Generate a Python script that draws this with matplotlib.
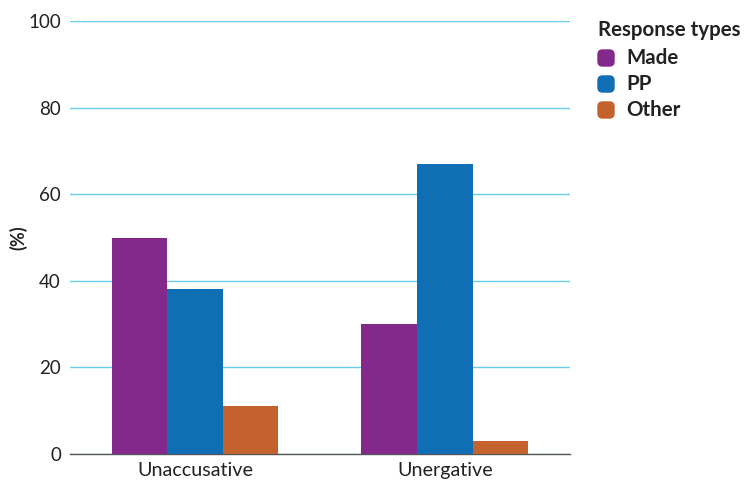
import matplotlib
matplotlib.use("Agg")
import matplotlib.pyplot as plt
from matplotlib.patches import FancyBboxPatch
import numpy as np

plt.rcParams['font.family'] = ['Lato', 'DejaVu Sans']

# --- données ------------------------------------------------------------
categories = ['Unaccusative', 'Unergative']
series = ['Made', 'PP', 'Other']
made = [50, 30]
pp = [38, 67]
other = [11, 3]
values = [made, pp, other]
colors = ['#84298C', '#0F6EB4', '#C4622D']
yticks = [0, 20, 40, 60, 80, 100]

# --- figure -------------------------------------------------------------
fig = plt.figure(figsize=(7.45, 4.83), dpi=100)
ax = fig.add_axes([0.094, 0.060, 0.671, 0.8965])

x = np.arange(len(categories))
width = 0.2227
for i, (vals, col) in enumerate(zip(values, colors)):
    ax.bar(x + (i - 1) * width, vals, width, color=col, zorder=3)

ax.set_xlim(-0.5, 1.5)
ax.set_ylim(0, 100)
ax.set_yticks(yticks)
ax.set_xticks(x)
ax.set_xticklabels(categories, fontsize=14.2, color='#222222')
ax.tick_params(axis='y', length=0, pad=6.5, labelsize=13.5, labelcolor='#222222')
ax.tick_params(axis='x', length=0, pad=6)
ax.yaxis.grid(True, color='#6ACDF0', lw=1.0, zorder=0)
for s in ['left', 'right', 'top']:
    ax.spines[s].set_visible(False)
ax.spines['bottom'].set_color('#555555')
ax.spines['bottom'].set_linewidth(1.0)
ax.set_ylabel('(%)', fontsize=13, fontweight='bold', color='#222222')
ax.yaxis.set_label_coords(-0.086, 0.5)

# --- légende ------------------------------------------------------------
fig.text(598 / 745, 1 - 30 / 483, 'Response types', fontsize=14.8,
         fontweight='bold', va='center', ha='left', color='#222222')
for k, (name, col) in enumerate(zip(series, colors)):
    yc = 58 + 26 * k
    sw = FancyBboxPatch((598 / 745, 1 - (yc + 8) / 483), 16 / 745, 16 / 483,
                        boxstyle='round,pad=0,rounding_size=0.006',
                        transform=fig.transFigure, color=col, mutation_aspect=745 / 483)
    fig.patches.append(sw)
    fig.text(626 / 745, 1 - yc / 483, name, fontsize=14.8, fontweight='bold',
             va='center', ha='left', color='#222222')

fig.savefig('out.png', dpi=100)
